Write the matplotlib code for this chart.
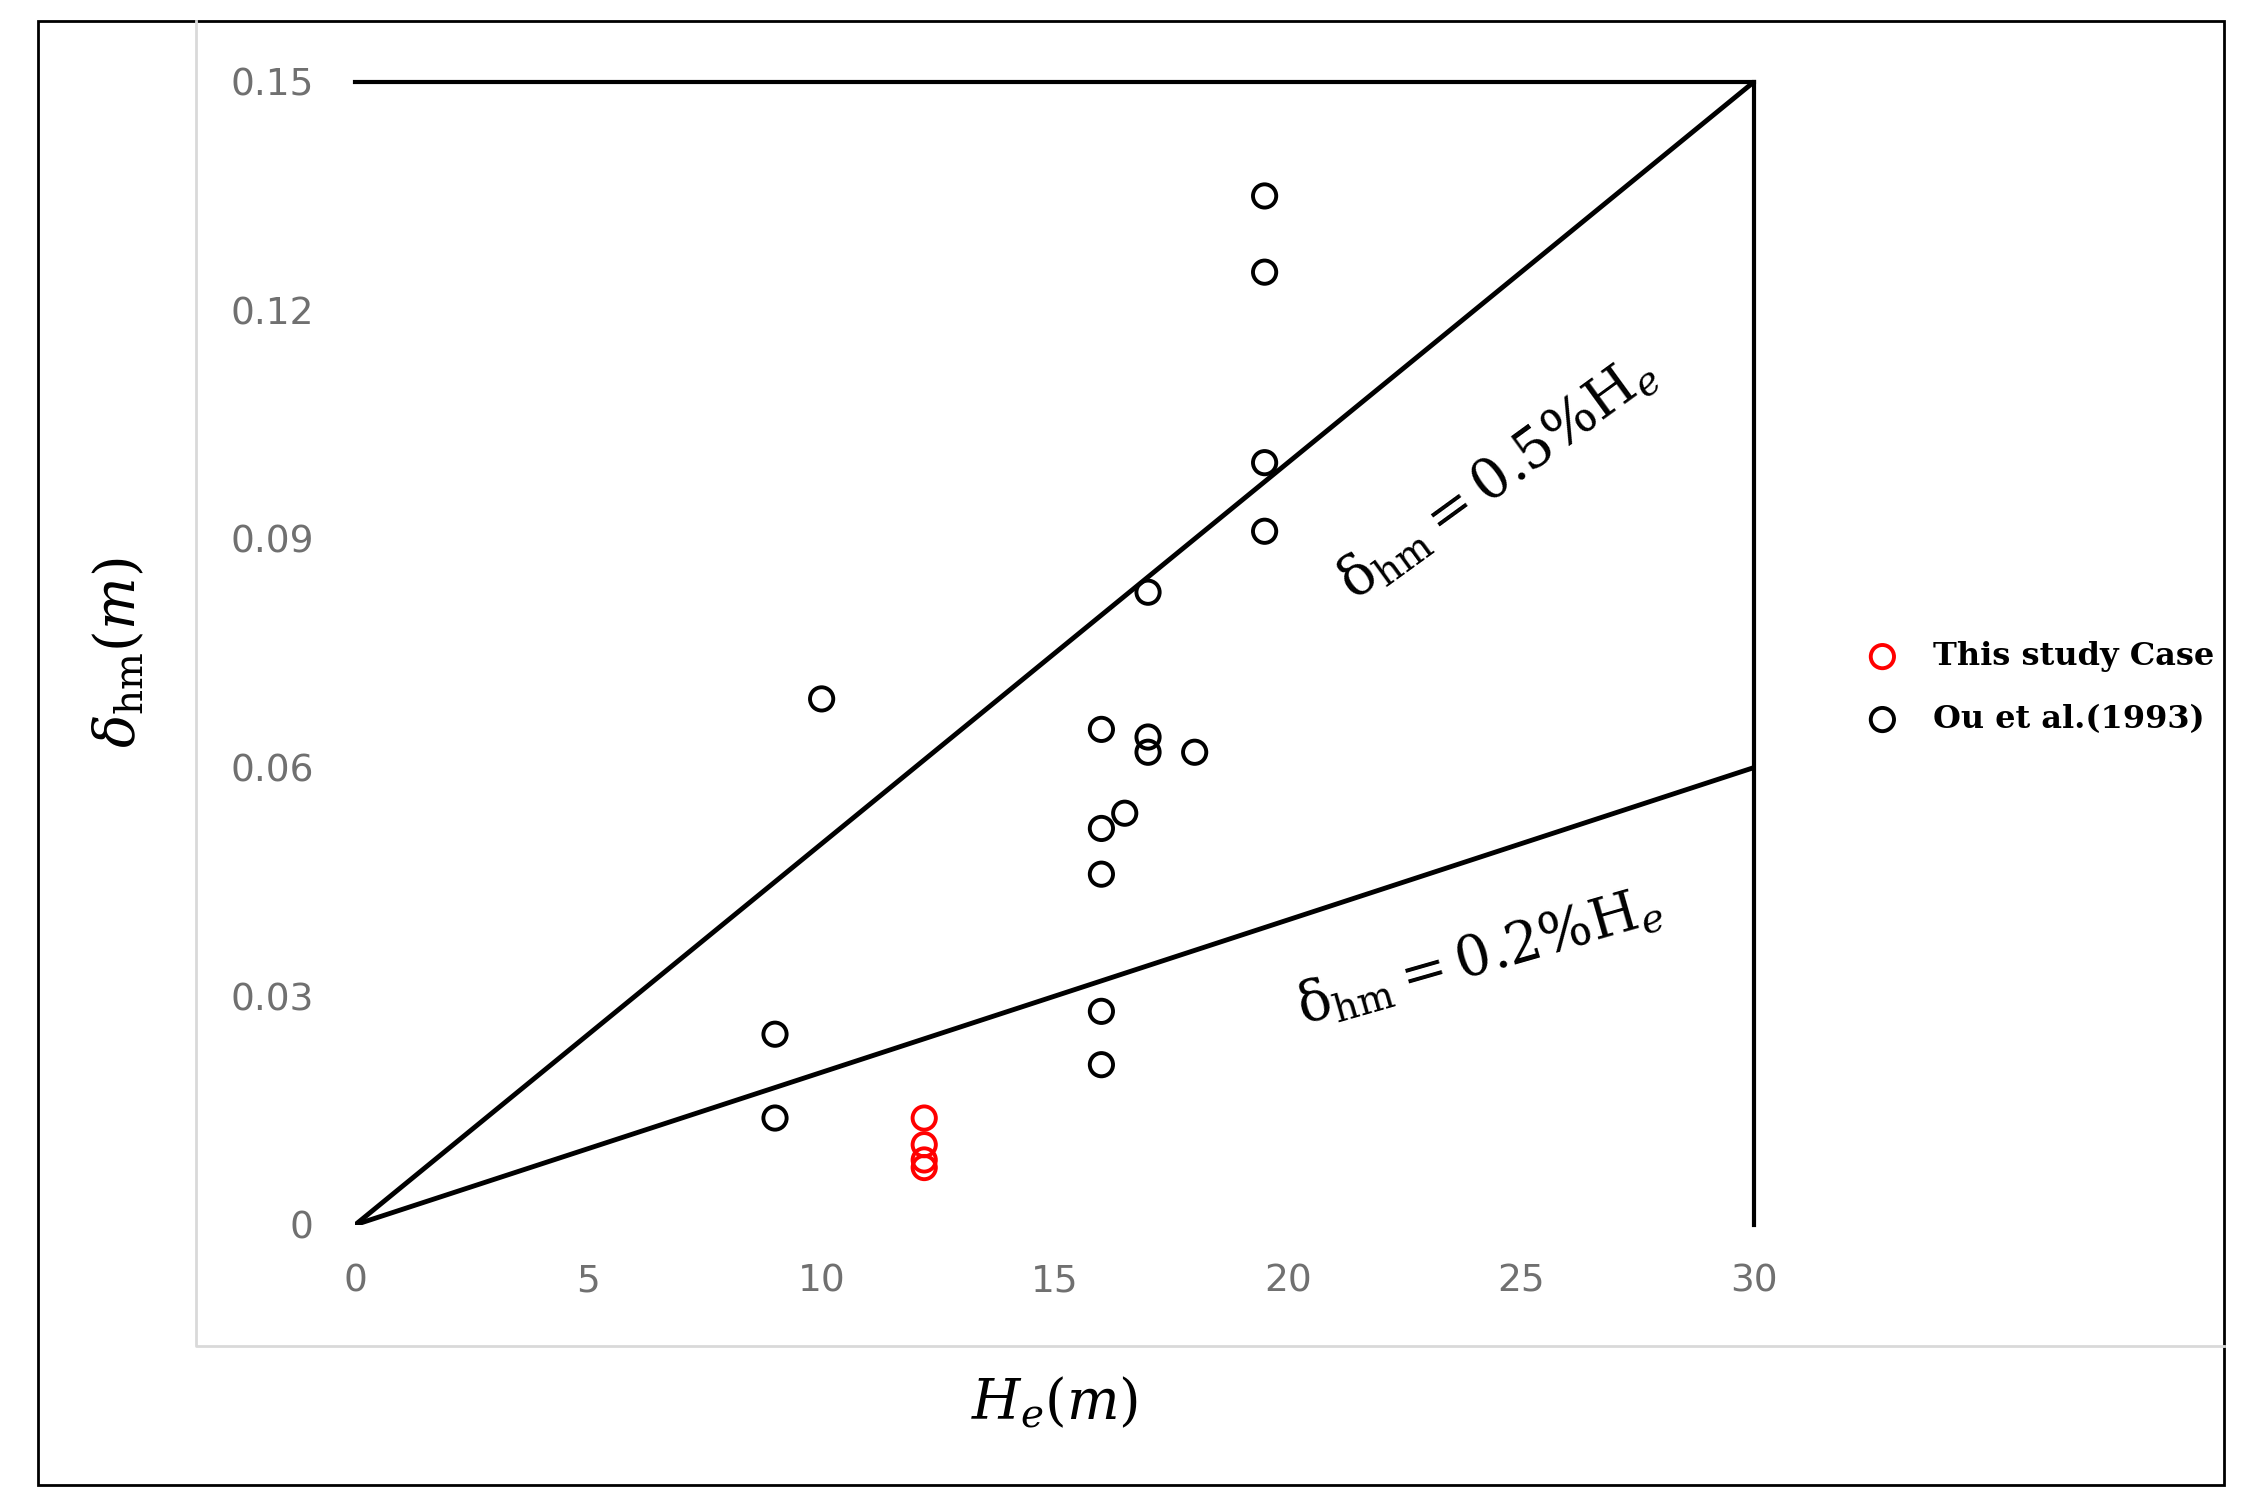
import matplotlib
matplotlib.use("Agg")
import matplotlib.pyplot as plt
from matplotlib.lines import Line2D
from matplotlib.patches import Rectangle

ou_x = [19.5, 19.5, 19.5, 19.5, 17.0, 10.0, 16.0, 17.0, 17.0, 18.0, 16.5, 16.0, 16.0, 16.0, 16.0, 9.0, 9.0]
ou_y = [0.135, 0.125, 0.100, 0.091, 0.083, 0.069, 0.065, 0.064, 0.062, 0.062, 0.054, 0.052, 0.046, 0.028, 0.021, 0.025, 0.014]
case_x = [12.2, 12.2, 12.2, 12.2]
case_y = [0.014, 0.0105, 0.0085, 0.0075]
xticks = [0, 5, 10, 15, 20, 25, 30]
yticks = [0, 0.03, 0.06, 0.09, 0.12, 0.15]
ytick_labels = ["0", "0.03", "0.06", "0.09", "0.12", "0.15"]

plt.rcParams['mathtext.fontset'] = 'dejavuserif'
fig = plt.figure(figsize=(22.49, 15.12), dpi=100)
fig.patches.append(Rectangle((0.017, 0.018), 0.972, 0.968, transform=fig.transFigure,
                             fill=False, edgecolor='black', lw=2))
fig.lines.append(Line2D([0.087, 0.087, 0.989], [0.986, 0.11, 0.11], transform=fig.transFigure,
                        color='#d9d9d9', lw=2))

ax = fig.add_axes([0.158, 0.19, 0.622, 0.756])
ax.set_xlim(0, 30)
ax.set_ylim(0, 0.15)
for s in ['left', 'bottom']:
    ax.spines[s].set_visible(False)
for s in ['top', 'right']:
    ax.spines[s].set_linewidth(3)
ax.plot([0, 30], [0, 0.15], color='black', lw=3.5)
ax.plot([0, 30], [0, 0.06], color='black', lw=3.5)
ax.scatter(case_x, case_y, s=280, facecolors='none', edgecolors='red', linewidths=2.8,
           label='This study Case', zorder=3)
ax.scatter(ou_x, ou_y, s=280, facecolors='none', edgecolors='black', linewidths=2.8,
           label='Ou et al.(1993)', zorder=3)
ax.set_xticks(xticks)
ax.set_yticks(yticks)
ax.set_yticklabels(ytick_labels)
ax.tick_params(length=0, labelsize=27, colors='#707070')
ax.tick_params(axis='x', pad=28)
ax.tick_params(axis='y', pad=30)
ax.set_xlabel(r'$H_e(m)$', fontsize=40, labelpad=55)
ax.set_ylabel(r'$\delta_{\rm hm}(m)$', fontsize=40, labelpad=60)
ax.text(24.5, 0.098, r'$\mathrm{\delta_{hm}}=0.5\%\mathrm{H}_e$', fontsize=40, rotation=36,
        ha='center', va='center')
ax.text(24.1, 0.035, r'$\mathrm{\delta_{hm}}=0.2\%\mathrm{H}_e$', fontsize=40, rotation=16,
        ha='center', va='center')
fig.legend(loc='center left', bbox_to_anchor=(0.81, 0.545), frameon=False,
           prop={'family': 'DejaVu Serif', 'weight': 'bold', 'size': 23},
           handletextpad=0.6, labelspacing=1.0)
fig.savefig('out.png', dpi=100)
